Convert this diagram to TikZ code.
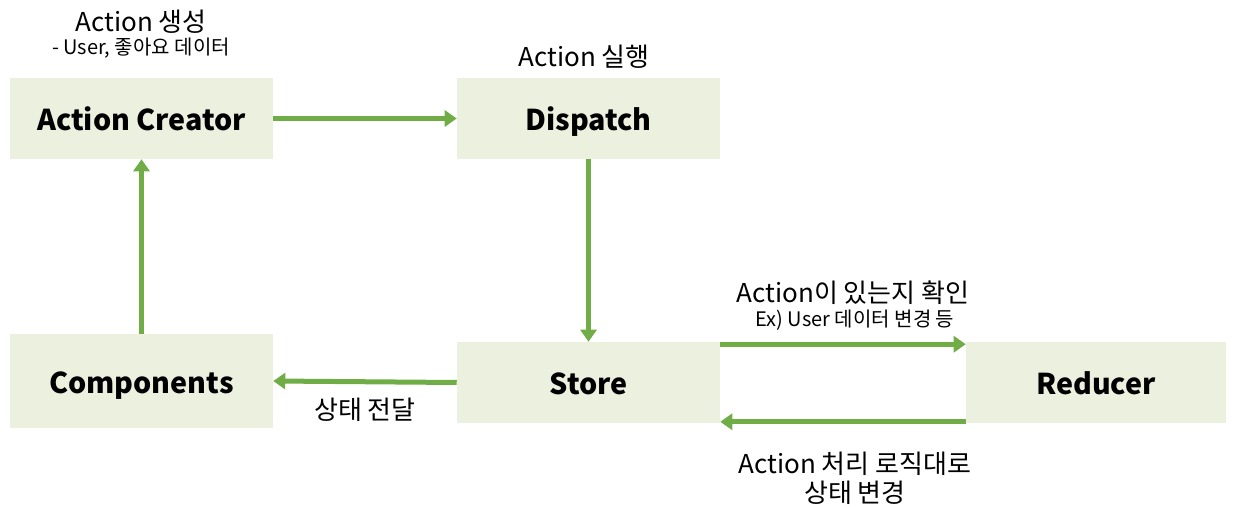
\documentclass[tikz,border=0pt]{standalone}
\usepackage{fontspec}
\setmainfont{Noto Sans CJK KR}
\usetikzlibrary{arrows.meta}
\definecolor{boxfill}{HTML}{EBF1DE}
\definecolor{arrowgreen}{HTML}{70AD47}
\tikzset{
  stepbox/.style={rectangle, fill=boxfill, inner sep=0pt, minimum width=263*0.75pt, minimum height=81*0.75pt, text height=18pt, text depth=0pt, font=\bfseries\fontsize{21.5}{25}\selectfont},
  flow/.style={draw=arrowgreen, line width=3.75pt, -{Triangle[length=9pt,width=12pt]}},
  note/.style={font=\fontsize{19.5}{23}\selectfont},
  subnote/.style={font=\fontsize{15}{18}\selectfont}
}
\begin{document}
\begin{tikzpicture}[x=0.75pt,y=-0.75pt]
   \useasboundingbox (0,0) rectangle (1237,509);
   %boxes
   \node[stepbox] (creator) at (141.5,118.5) {Action Creator};
   \node[stepbox] (dispatch) at (588.5,118.5) {Dispatch};
   \node[stepbox, minimum height=94*0.75pt] (comp) at (141.5,381) {Components};
   \node[stepbox] (store) at (588.5,382.5) {Store};
   \node[stepbox, minimum width=260*0.75pt] (reducer) at (1096,382.5) {Reducer};
   %labels
   \node[note] (lcreate) at (141,22) {Action 생성};
   \node[subnote] (lcreatesub) at (141,48) {- User, 좋아요 데이터};
   \node[note] (ldispatch) at (584,57) {Action 실행};
   \node[note] (lcheck) at (853,293) {Action이 있는지 확인};
   \node[subnote] (lchecksub) at (855,320) {Ex) User 데이터 변경 등};
   \node[note] (lpass) at (365,410) {상태 전달};
   \node[note] (lchange) at (855,464) {Action 처리 로직대로};
   \node[note] (lchangesub) at (855,493) {상태 변경};
   %arrows
   \draw[flow] (creator.east) -- (dispatch.west);
   \draw[flow] (dispatch.south) -- (store.north);
   \draw[flow] (comp.north) -- (creator.south);
   \draw[flow] (store.west) -- (comp.east);
   \draw[flow] ([yshift=-2.5*0.75pt]store.north east) -- ([yshift=-2.5*0.75pt]reducer.north west);
   \draw[flow] ([yshift=1.5*0.75pt]reducer.south west) -- ([yshift=1.5*0.75pt]store.south east);
\end{tikzpicture}
\end{document}
